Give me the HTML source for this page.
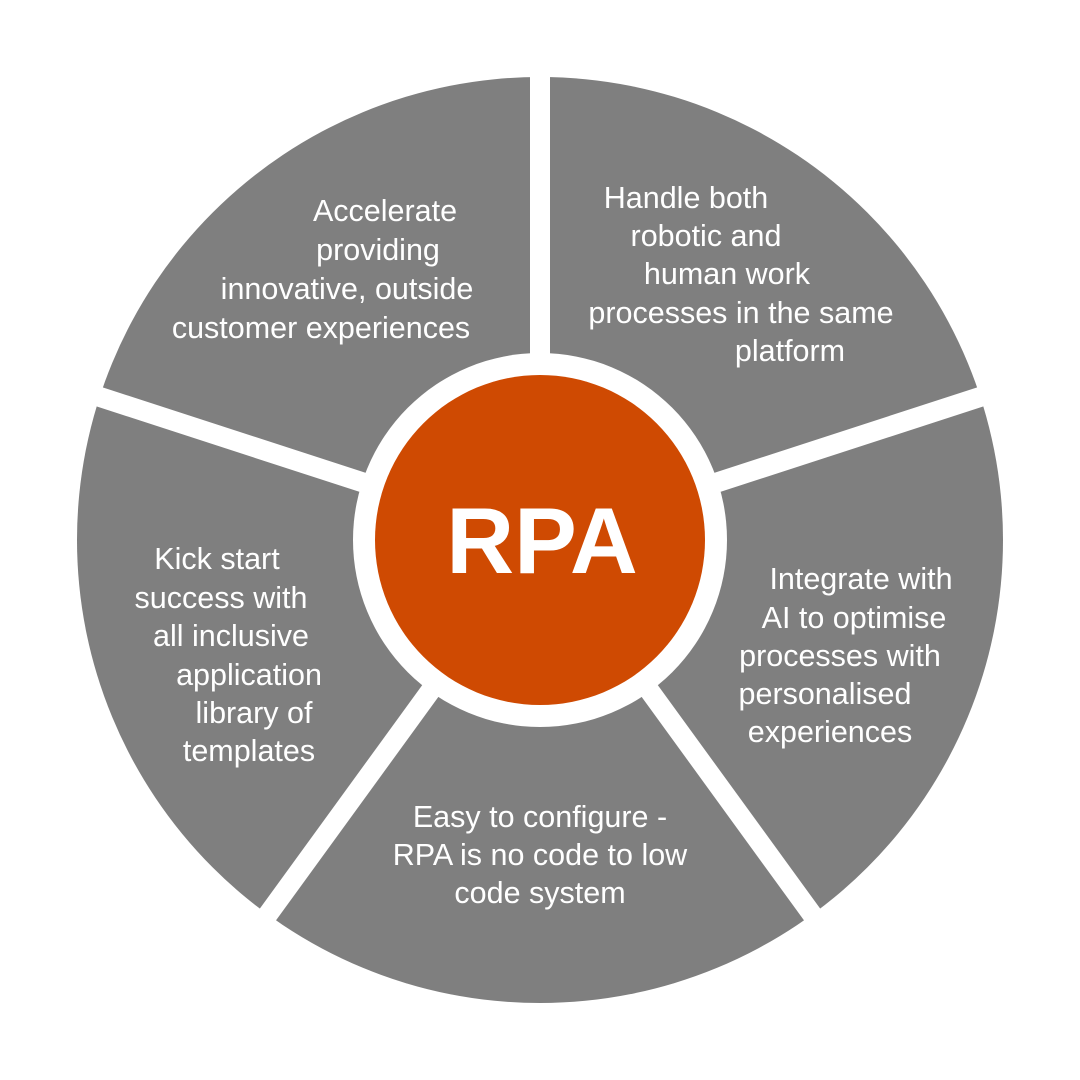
<!DOCTYPE html>
<html><head><meta charset="utf-8"><style>
html,body{margin:0;padding:0;background:#fff;}
svg{display:block}
text{font-family:"Liberation Sans",Arial,sans-serif;fill:#fff;}
</style></head><body>
<svg width="1080" height="1080" viewBox="0 0 1080 1080">
<circle cx="540" cy="540" r="463" fill="#7f7f7f"/>
<g stroke="#fff" stroke-width="20">
<line x1="540" y1="540" x2="540" y2="60"/>
<line x1="540" y1="540" x2="1000" y2="390.5"/>
<line x1="540" y1="540" x2="824.3" y2="931.3"/>
<line x1="540" y1="540" x2="255.7" y2="931.3"/>
<line x1="540" y1="540" x2="80" y2="390.5"/>
</g>
<circle cx="540" cy="540" r="187" fill="#fff"/>
<circle cx="540" cy="540" r="165" fill="#cf4a02"/>
<text x="542" y="573" text-anchor="middle" font-size="94" font-weight="bold">RPA</text>
<g font-size="30.5" text-anchor="middle">
<text x="385" y="221">Accelerate</text>
<text x="378" y="260">providing</text>
<text x="347" y="299">innovative, outside</text>
<text x="321" y="338">customer experiences</text>
<text x="686" y="208">Handle both</text>
<text x="706" y="246">robotic and</text>
<text x="727" y="284">human work</text>
<text x="741" y="323">processes in the same</text>
<text x="790" y="361">platform</text>
<text x="861" y="589">Integrate with</text>
<text x="854" y="628">AI to optimise</text>
<text x="840" y="666">processes with</text>
<text x="825" y="704">personalised</text>
<text x="830" y="742">experiences</text>
<text x="540" y="827">Easy to configure -</text>
<text x="540" y="865">RPA is no code to low</text>
<text x="540" y="903">code system</text>
<text x="217" y="569">Kick start</text>
<text x="221" y="608">success with</text>
<text x="231" y="646">all inclusive</text>
<text x="249" y="685">application</text>
<text x="254" y="723">library of</text>
<text x="249" y="761">templates</text>
</g>
</svg>
</body></html>
